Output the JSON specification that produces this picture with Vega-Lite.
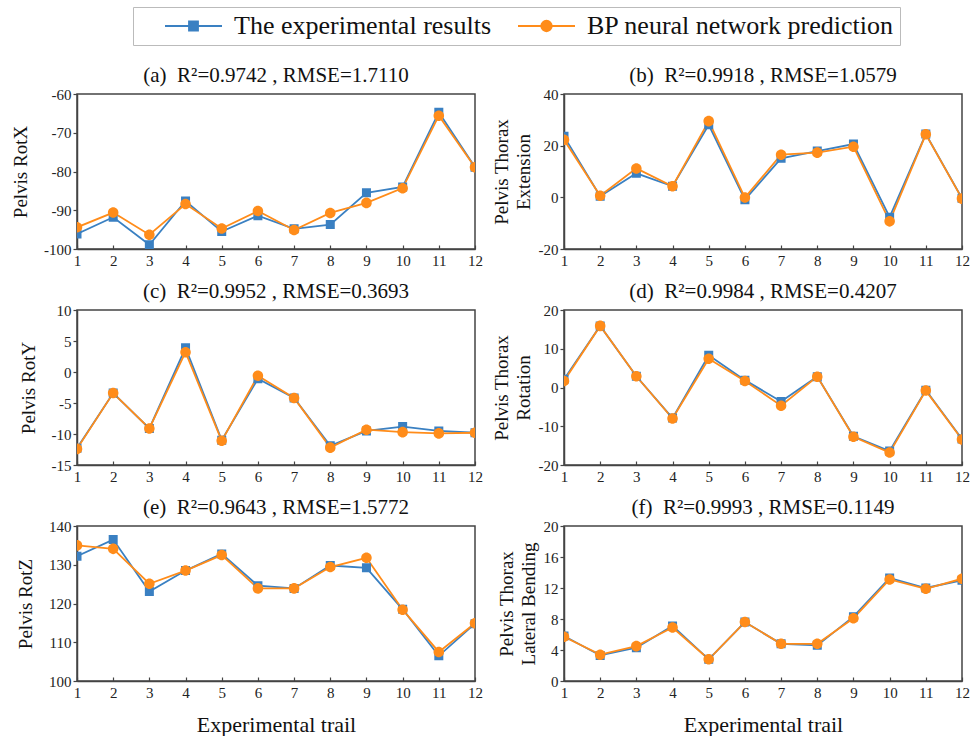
{
  "$schema": "https://vega.github.io/schema/vega-lite/v6.json",
  "padding": {"left": 10, "top": 6, "right": 0, "bottom": 0},
  "data": {"values": [
    {"p":"a","t":1,"e":-96.1,"q":-94.4},{"p":"a","t":2,"e":-91.8,"q":-90.6},{"p":"a","t":3,"e":-98.9,"q":-96.3},{"p":"a","t":4,"e":-87.6,"q":-88.4},{"p":"a","t":5,"e":-95.5,"q":-94.7},{"p":"a","t":6,"e":-91.4,"q":-90.2},{"p":"a","t":7,"e":-94.8,"q":-95.1},{"p":"a","t":8,"e":-93.7,"q":-90.7},{"p":"a","t":9,"e":-85.5,"q":-88.1},{"p":"a","t":10,"e":-84.0,"q":-84.3},{"p":"a","t":11,"e":-64.7,"q":-65.6},{"p":"a","t":12,"e":-78.9,"q":-78.9},
    {"p":"b","t":1,"e":23.6,"q":22.3},{"p":"b","t":2,"e":0.4,"q":0.6},{"p":"b","t":3,"e":9.3,"q":11.2},{"p":"b","t":4,"e":4.3,"q":4.3},{"p":"b","t":5,"e":28.1,"q":29.5},{"p":"b","t":6,"e":-0.9,"q":-0.1},{"p":"b","t":7,"e":15.1,"q":16.5},{"p":"b","t":8,"e":17.9,"q":17.3},{"p":"b","t":9,"e":20.6,"q":19.6},{"p":"b","t":10,"e":-7.7,"q":-9.3},{"p":"b","t":11,"e":24.5,"q":24.4},{"p":"b","t":12,"e":-0.4,"q":-0.5},
    {"p":"c","t":1,"e":-12.3,"q":-12.4},{"p":"c","t":2,"e":-3.4,"q":-3.4},{"p":"c","t":3,"e":-9.1,"q":-9.1},{"p":"c","t":4,"e":3.9,"q":3.2},{"p":"c","t":5,"e":-11.0,"q":-11.1},{"p":"c","t":6,"e":-1.1,"q":-0.6},{"p":"c","t":7,"e":-4.2,"q":-4.2},{"p":"c","t":8,"e":-11.9,"q":-12.2},{"p":"c","t":9,"e":-9.5,"q":-9.3},{"p":"c","t":10,"e":-8.8,"q":-9.7},{"p":"c","t":11,"e":-9.5,"q":-9.9},{"p":"c","t":12,"e":-9.8,"q":-9.8},
    {"p":"d","t":1,"e":2.1,"q":1.7},{"p":"d","t":2,"e":15.9,"q":15.9},{"p":"d","t":3,"e":2.9,"q":2.9},{"p":"d","t":4,"e":-7.9,"q":-8.0},{"p":"d","t":5,"e":8.3,"q":7.4},{"p":"d","t":6,"e":1.9,"q":1.7},{"p":"d","t":7,"e":-3.6,"q":-4.7},{"p":"d","t":8,"e":2.8,"q":2.8},{"p":"d","t":9,"e":-12.6,"q":-12.7},{"p":"d","t":10,"e":-16.4,"q":-16.8},{"p":"d","t":11,"e":-0.7,"q":-0.8},{"p":"d","t":12,"e":-13.3,"q":-13.4},
    {"p":"e","t":1,"e":132.2,"q":135.0},{"p":"e","t":2,"e":136.5,"q":134.1},{"p":"e","t":3,"e":123.1,"q":125.1},{"p":"e","t":4,"e":128.5,"q":128.5},{"p":"e","t":5,"e":132.8,"q":132.5},{"p":"e","t":6,"e":124.6,"q":123.9},{"p":"e","t":7,"e":123.9,"q":123.9},{"p":"e","t":8,"e":129.8,"q":129.4},{"p":"e","t":9,"e":129.2,"q":131.8},{"p":"e","t":10,"e":118.5,"q":118.4},{"p":"e","t":11,"e":106.5,"q":107.5},{"p":"e","t":12,"e":114.8,"q":114.9},
    {"p":"f","t":1,"e":5.8,"q":5.7},{"p":"f","t":2,"e":3.3,"q":3.4},{"p":"f","t":3,"e":4.3,"q":4.5},{"p":"f","t":4,"e":7.1,"q":6.9},{"p":"f","t":5,"e":2.8,"q":2.8},{"p":"f","t":6,"e":7.6,"q":7.6},{"p":"f","t":7,"e":4.8,"q":4.8},{"p":"f","t":8,"e":4.6,"q":4.8},{"p":"f","t":9,"e":8.3,"q":8.1},{"p":"f","t":10,"e":13.3,"q":13.1},{"p":"f","t":11,"e":12.0,"q":11.9},{"p":"f","t":12,"e":13.0,"q":13.2}
  ]},
  "columns": 2,
  "spacing": {"row": 61, "column": 89},
  "bounds": "flush",
  "resolve": {"scale": {"color": "shared", "shape": "shared"}, "legend": {"color": "shared", "shape": "shared"}},
  "concat": [
    {
      "title": "(a)\u00a0\u00a0R²=0.9742 , RMSE=1.7110",
      "width": 398, "height": 155,
      "transform": [{"filter": "datum.p == 'a'"}, {"fold": ["e", "q"], "as": ["s", "v"]}],
      "encoding": {
        "x": {"field": "t", "type": "quantitative", "scale": {"domain": [1, 12], "nice": false}, "axis": {"values": [1,2,3,4,5,6,7,8,9,10,11,12], "title": null}},
        "y": {"field": "v", "type": "quantitative", "scale": {"domain": [-100, -60], "nice": false, "zero": false}, "axis": {"values": [-100,-90,-80,-70,-60], "title": "Pelvis RotX", "titlePadding": 13}},
        "color": {"field": "s", "type": "nominal", "scale": {"domain": ["e", "q"], "range": ["#3a80c2", "#ff8c1a"]},
          "legend": {"orient": "none", "legendX": 56, "legendY": -87, "direction": "horizontal", "title": null, "labelExpr": "datum.value == 'e' ? 'The experimental results' : 'BP neural network prediction'", "labelFont": "Liberation Serif", "labelFontSize": 26, "labelLimit": 600, "labelColor": "#111", "symbolSize": 3249, "clipHeight": 26, "symbolOffset": 25, "labelOffset": 11, "columnPadding": 0, "padding": 6, "strokeColor": "#bbb", "symbolStrokeWidth": 1.8,
             "encode": {"symbols": {"update": {"stroke": {"scale": "color", "field": "value"}, "fill": {"scale": "color", "field": "value"}, "strokeWidth": {"value": 1.8}}}}}}
      },
      "layer": [
        {"mark": {"type": "line", "strokeWidth": 1.8, "clip": true}},
        {"mark": {"type": "point", "filled": true, "opacity": 1, "size": 3249, "clip": true},
         "encoding": {"shape": {"field": "s", "type": "nominal", "scale": {"domain": ["e", "q"], "range": ["M-1,0H1M-0.158,-0.158H0.158V0.158H-0.158Z", "M-1,0H1M-0.185,0A0.185,0.185,0,1,1,0.185,0A0.185,0.185,0,1,1,-0.185,0Z"]},
           "legend": {"orient": "none", "legendX": 56, "legendY": -87, "direction": "horizontal", "title": null, "labelExpr": "datum.value == 'e' ? 'The experimental results' : 'BP neural network prediction'", "labelFont": "Liberation Serif", "labelFontSize": 26, "labelLimit": 600, "labelColor": "#111", "symbolSize": 3249, "clipHeight": 26, "symbolOffset": 25, "labelOffset": 11, "columnPadding": 0, "padding": 6, "strokeColor": "#bbb", "symbolStrokeWidth": 1.8,
             "encode": {"symbols": {"update": {"stroke": {"scale": "color", "field": "value"}, "fill": {"scale": "color", "field": "value"}, "strokeWidth": {"value": 1.8}}}}}}}}
      ]
    },
    {
      "title": "(b)\u00a0\u00a0R²=0.9918 , RMSE=1.0579",
      "width": 398, "height": 155,
      "transform": [{"filter": "datum.p == 'b'"}, {"fold": ["e", "q"], "as": ["s", "v"]}],
      "encoding": {
        "x": {"field": "t", "type": "quantitative", "scale": {"domain": [1, 12], "nice": false}, "axis": {"values": [1,2,3,4,5,6,7,8,9,10,11,12], "title": null}},
        "y": {"field": "v", "type": "quantitative", "scale": {"domain": [-20, 40], "nice": false, "zero": false}, "axis": {"values": [-20,0,20,40], "title": ["Pelvis Thorax", "Extension"], "titlePadding": 5, "titleLineHeight": 22}},
        "color": {"field": "s", "type": "nominal"}
      },
      "layer": [
        {"mark": {"type": "line", "strokeWidth": 1.8, "clip": true}},
        {"mark": {"type": "point", "filled": true, "opacity": 1, "size": 3249, "clip": true}, "encoding": {"shape": {"field": "s", "type": "nominal"}}}
      ]
    },
    {
      "title": "(c)\u00a0\u00a0R²=0.9952 , RMSE=0.3693",
      "width": 398, "height": 155,
      "transform": [{"filter": "datum.p == 'c'"}, {"fold": ["e", "q"], "as": ["s", "v"]}],
      "encoding": {
        "x": {"field": "t", "type": "quantitative", "scale": {"domain": [1, 12], "nice": false}, "axis": {"values": [1,2,3,4,5,6,7,8,9,10,11,12], "title": null}},
        "y": {"field": "v", "type": "quantitative", "scale": {"domain": [-15, 10], "nice": false, "zero": false}, "axis": {"values": [-15,-10,-5,0,5,10], "title": "Pelvis RotY", "titlePadding": 13}},
        "color": {"field": "s", "type": "nominal"}
      },
      "layer": [
        {"mark": {"type": "line", "strokeWidth": 1.8, "clip": true}},
        {"mark": {"type": "point", "filled": true, "opacity": 1, "size": 3249, "clip": true}, "encoding": {"shape": {"field": "s", "type": "nominal"}}}
      ]
    },
    {
      "title": "(d)\u00a0\u00a0R²=0.9984 , RMSE=0.4207",
      "width": 398, "height": 155,
      "transform": [{"filter": "datum.p == 'd'"}, {"fold": ["e", "q"], "as": ["s", "v"]}],
      "encoding": {
        "x": {"field": "t", "type": "quantitative", "scale": {"domain": [1, 12], "nice": false}, "axis": {"values": [1,2,3,4,5,6,7,8,9,10,11,12], "title": null}},
        "y": {"field": "v", "type": "quantitative", "scale": {"domain": [-20, 20], "nice": false, "zero": false}, "axis": {"values": [-20,-10,0,10,20], "title": ["Pelvis Thorax", "Rotation"], "titlePadding": 5, "titleLineHeight": 22}},
        "color": {"field": "s", "type": "nominal"}
      },
      "layer": [
        {"mark": {"type": "line", "strokeWidth": 1.8, "clip": true}},
        {"mark": {"type": "point", "filled": true, "opacity": 1, "size": 3249, "clip": true}, "encoding": {"shape": {"field": "s", "type": "nominal"}}}
      ]
    },
    {
      "title": "(e)\u00a0\u00a0R²=0.9643 , RMSE=1.5772",
      "width": 398, "height": 155,
      "transform": [{"filter": "datum.p == 'e'"}, {"fold": ["e", "q"], "as": ["s", "v"]}],
      "encoding": {
        "x": {"field": "t", "type": "quantitative", "scale": {"domain": [1, 12], "nice": false}, "axis": {"values": [1,2,3,4,5,6,7,8,9,10,11,12], "title": "Experimental trail", "titleFontSize": 22, "titlePadding": 14}},
        "y": {"field": "v", "type": "quantitative", "scale": {"domain": [100, 140], "nice": false, "zero": false}, "axis": {"values": [100,110,120,130,140], "title": "Pelvis RotZ", "titlePadding": 13}},
        "color": {"field": "s", "type": "nominal"}
      },
      "layer": [
        {"mark": {"type": "line", "strokeWidth": 1.8, "clip": true}},
        {"mark": {"type": "point", "filled": true, "opacity": 1, "size": 3249, "clip": true}, "encoding": {"shape": {"field": "s", "type": "nominal"}}}
      ]
    },
    {
      "title": "(f)\u00a0\u00a0R²=0.9993 , RMSE=0.1149",
      "width": 398, "height": 155,
      "transform": [{"filter": "datum.p == 'f'"}, {"fold": ["e", "q"], "as": ["s", "v"]}],
      "encoding": {
        "x": {"field": "t", "type": "quantitative", "scale": {"domain": [1, 12], "nice": false}, "axis": {"values": [1,2,3,4,5,6,7,8,9,10,11,12], "title": "Experimental trail", "titleFontSize": 22, "titlePadding": 14}},
        "y": {"field": "v", "type": "quantitative", "scale": {"domain": [0, 20], "nice": false, "zero": false}, "axis": {"values": [0,4,8,12,16,20], "title": ["Pelvis Thorax", "Lateral Bending"], "titlePadding": 5, "titleLineHeight": 22}},
        "color": {"field": "s", "type": "nominal"}
      },
      "layer": [
        {"mark": {"type": "line", "strokeWidth": 1.8, "clip": true}},
        {"mark": {"type": "point", "filled": true, "opacity": 1, "size": 3249, "clip": true}, "encoding": {"shape": {"field": "s", "type": "nominal"}}}
      ]
    }
  ],
  "config": {
    "font": "Liberation Serif",
    "background": "white",
    "view": {"stroke": "#444", "strokeWidth": 1.5},
    "axis": {"labelFont": "Liberation Serif", "labelFontSize": 15, "labelColor": "#222", "labelExpr": "'' + datum.value", "titleFont": "Liberation Serif", "titleFontSize": 19, "titleFontWeight": "normal", "titleColor": "#111", "domainColor": "#444", "domainWidth": 1.5, "tickColor": "#444", "tickWidth": 1.2, "grid": false, "labelFlush": false, "labelOverlap": false},
    "axisX": {"tickSize": -4, "labelPadding": 8, "labelFont": "Liberation Serif"},
    "axisY": {"tickSize": 4, "labelPadding": 2, "labelFont": "Liberation Serif"},
    "title": {"font": "Liberation Serif", "fontSize": 21, "fontWeight": "normal", "color": "#111", "offset": 1}
  }
}
